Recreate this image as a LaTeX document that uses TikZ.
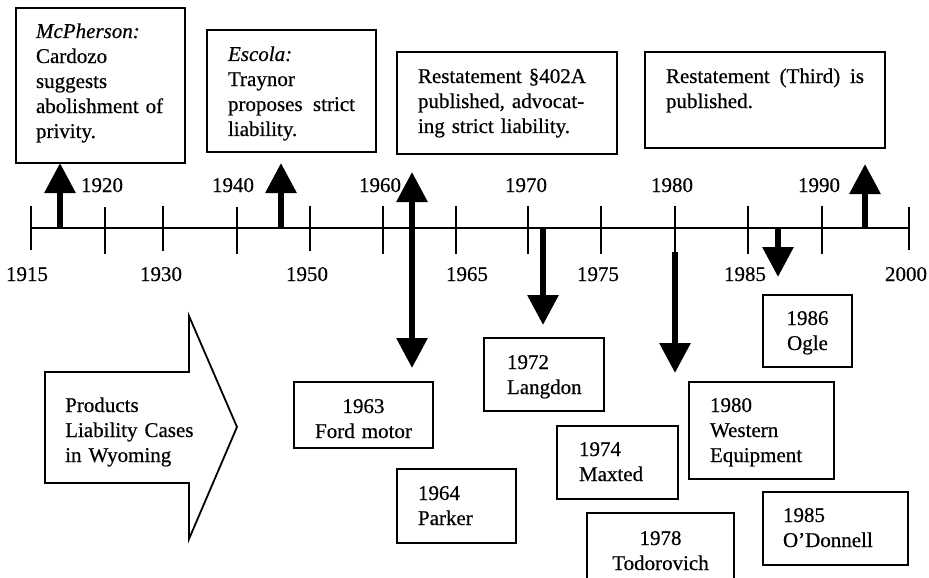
\documentclass[tikz,border=0pt]{standalone}
\usepackage{fontspec}
\setmainfont{Liberation Serif}[UprightFeatures={FakeBold=0.5}, ItalicFeatures={FakeBold=0.5}]
\usetikzlibrary{arrows.meta}

\tikzset{
  evbox/.style={draw, line width=1.8pt, anchor=north west, align=left,
    inner ysep=0pt, outer sep=0pt},
  cbox/.style={evbox, align=center},
  yr/.style={anchor=base, inner sep=0pt},
  yeartick/.style={line width=2pt},
  ev/.style={line width=6pt, -{Triangle[width=30pt,length=30pt]}},
  evboth/.style={line width=6pt, {Triangle[width=30pt,length=30pt]}-{Triangle[width=30pt,length=30pt]}},
}

\begin{document}
\begin{tikzpicture}[x=1pt, y=-1pt, font=\fontsize{21}{25}\selectfont]
  %tikz  Products liability, timeline 1915--2000
    \useasboundingbox (0,0) rectangle (929,578);
    \def\ay{228}
    % axis and ticks
    \draw[line width=2.5pt] (31,\ay) -- (908,\ay);
    \draw[yeartick] (31,206) -- (31,250);
    \draw[yeartick] (105,207) -- (105,254);
    \draw[yeartick] (163,206) -- (163,251);
    \draw[yeartick] (237,207) -- (237,254);
    \draw[yeartick] (310,206) -- (310,251);
    \draw[yeartick] (383,206) -- (383,254);
    \draw[yeartick] (456,206) -- (456,254);
    \draw[yeartick] (528,206) -- (528,254);
    \draw[yeartick] (601,206) -- (601,254);
    \draw[yeartick] (675,206) -- (675,254);
    \draw[yeartick] (748,206) -- (748,254);
    \draw[yeartick] (822,206) -- (822,254);
    \draw[yeartick] (909,207) -- (909,250);
    % years
    \node[yr] (l1915) at (27,281) {1915};
    \node[yr] (l1920) at (102,192) {1920};
    \node[yr] (l1930) at (161,281) {1930};
    \node[yr] (l1940) at (233,192) {1940};
    \node[yr] (l1950) at (307,281) {1950};
    \node[yr] (l1960) at (380,192) {1960};
    \node[yr] (l1965) at (467,281) {1965};
    \node[yr] (l1970) at (526,192) {1970};
    \node[yr] (l1975) at (598,281) {1975};
    \node[yr] (l1980) at (672,192) {1980};
    \node[yr] (l1985) at (745,281) {1985};
    \node[yr] (l1990) at (819,192) {1990};
    \node[yr] (l2000) at (906,281) {2000};
    % events above the line
    \node[evbox, text width=129pt, inner xsep=20pt, text height=30pt, text depth=125pt]
      (mcpherson) at (16,8) {\textit{McPherson:}\\Cardozo\\suggests\\abolishment~of\\privity.};
    \node[evbox, text width=127pt, inner xsep=21pt, text height=31pt, text depth=91pt]
      (escola) at (207,30) {\textit{Escola:}\\Traynor\\proposes \hfill strict\\liability.};
    \node[evbox, text width=178pt, inner xsep=21pt, text height=31pt, text depth=71pt]
      (rest2) at (397,52) {Restatement~\S402A\\published,~advocat-\\ing~strict~liability.};
    \node[evbox, text width=198pt, inner xsep=21pt, text height=31pt, text depth=65pt]
      (rest3) at (645,52) {Restatement \hfill (Third) \hfill is\\published.};
    % cases below the line
    \draw[line width=1.8pt, line join=miter] (45,372) -- (189,372) -- (189,316) -- (237,427)
      -- (189,539) -- (189,483) -- (45,483) -- cycle;
    \node[anchor=base west, text width=130pt, align=left, inner sep=0pt]
      (cases) at (65,412) {Products\\Liability~Cases\\in~Wyoming};
    \node[cbox, text width=119pt, inner xsep=10pt, text height=31pt, text depth=35pt]
      (ford) at (294,382) {1963\\Ford~motor};
    \node[evbox, text width=77pt, inner xsep=21pt, text height=31pt, text depth=43pt]
      (parker) at (397,469) {1964\\Parker};
    \node[evbox, text width=74pt, inner xsep=23pt, text height=31pt, text depth=42pt]
      (langdon) at (484,338) {1972\\Langdon};
    \node[evbox, text width=77pt, inner xsep=22pt, text height=30pt, text depth=43pt]
      (maxted) at (557,426) {1974\\Maxted};
    \node[cbox, text width=127pt, inner xsep=10pt, text height=32pt, text depth=37pt]
      (todorovich) at (587,513) {1978\\Todorovich};
    \node[evbox, text width=103pt, inner xsep=21pt, text height=30pt, text depth=67pt]
      (western) at (689,382) {1980\\Western\\Equipment};
    \node[cbox, text width=69pt, inner xsep=10pt, text height=30pt, text depth=42pt]
      (ogle) at (763,295) {1986\\Ogle};
    \node[evbox, text width=105pt, inner xsep=20pt, text height=30pt, text depth=43pt]
      (odonnell) at (763,492) {1985\\O'Donnell};
    % arrows
    \coordinate (a1916) at (60,\ay);  \coordinate (b1916) at (60,163);
    \coordinate (a1944) at (281,\ay); \coordinate (b1944) at (281,163);
    \coordinate (a1963) at (412,172); \coordinate (b1963) at (412,368);
    \coordinate (a1972) at (543,\ay); \coordinate (b1972) at (543,325);
    \coordinate (a1980) at (675,252); \coordinate (b1980) at (675,373);
    \coordinate (a1986) at (778,\ay); \coordinate (b1986) at (778,277);
    \coordinate (a1998) at (865,\ay); \coordinate (b1998) at (865,164);
    \draw[ev] (a1916) -- (b1916);
    \draw[ev] (a1944) -- (b1944);
    \draw[evboth] (a1963) -- (b1963);
    \draw[ev] (a1972) -- (b1972);
    \draw[ev] (a1980) -- (b1980);
    \draw[ev] (a1986) -- (b1986);
    \draw[ev] (a1998) -- (b1998);
\end{tikzpicture}
\end{document}
